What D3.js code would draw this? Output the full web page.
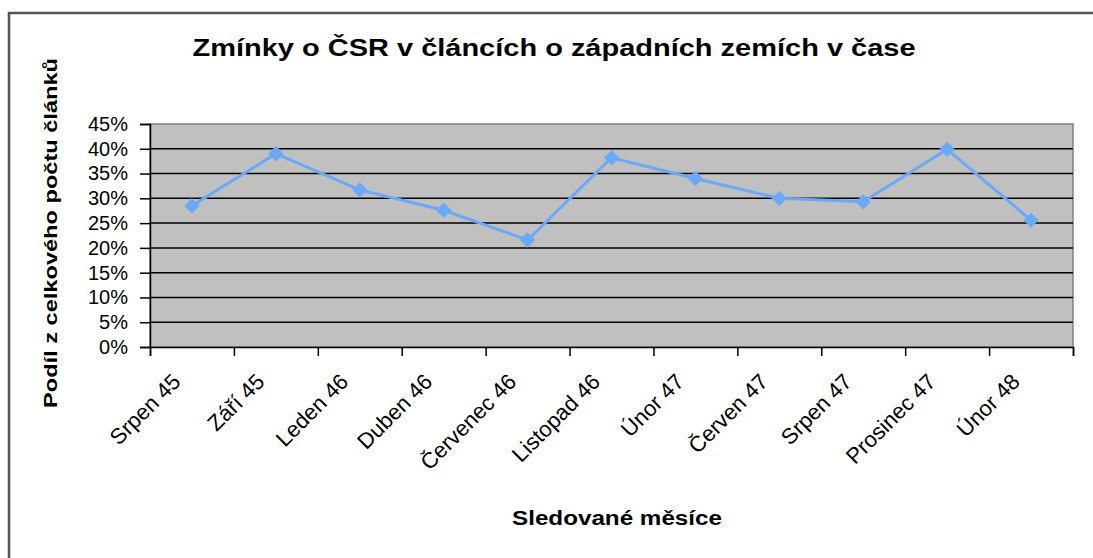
<!DOCTYPE html>
<html><head><meta charset="utf-8">
<script src="https://cdn.jsdelivr.net/npm/d3@7"></script>
<style>body{margin:0;background:#fff}svg{display:block}</style>
</head><body>
<svg id="c" width="1093" height="558"></svg>
<script>
const categories = ["Srpen 45","Září 45","Leden 46","Duben 46","Červenec 46","Listopad 46","Únor 47","Červen 47","Srpen 47","Prosinec 47","Únor 48"];
const values = [0.285,0.390,0.317,0.276,0.216,0.382,0.340,0.300,0.293,0.399,0.256];
const yTicks = [0,0.05,0.10,0.15,0.20,0.25,0.30,0.35,0.40,0.45];
const titleText = "Zmínky o ČSR v článcích o západních zemích v čase";
const yTitle = "Podíl z celkového počtu článků";
const xTitle = "Sledované měsíce";

const svg = d3.select("#c");
const L = 150, R = 1073, T = 124, B = 347;
const font = "Arial, 'Liberation Sans', sans-serif";

// outer frame
svg.append("rect").attr("x",9).attr("y",13).attr("width",1100).attr("height",600)
  .attr("fill","#fff").attr("stroke","#555").attr("stroke-width",2.5);

const x = d3.scaleBand().domain(categories).range([L,R]).padding(0);
const xb = d3.scaleLinear().domain([0,categories.length]).range([L,R]);
const y = d3.scaleLinear().domain([0,0.45]).range([B,T]);

// plot background
svg.append("rect").attr("x",L).attr("y",T).attr("width",R-L).attr("height",B-T)
  .attr("fill","#c0c0c0").attr("stroke","#808080").attr("stroke-width",1.5);

// gridlines
svg.append("g").selectAll("line").data(yTicks.filter(d=>d>0 && d<0.45)).join("line")
  .attr("x1",L).attr("x2",R).attr("y1",d=>y(d)).attr("y2",d=>y(d))
  .attr("stroke","#000").attr("stroke-width",1.5);

// y axis
const ya = svg.append("g").attr("transform",`translate(${L},0)`)
  .call(d3.axisLeft(y).tickValues(yTicks).tickFormat(d3.format(".0%")).tickSize(10).tickPadding(12));
ya.select(".domain").attr("stroke","#000").attr("stroke-width",1.5);
ya.selectAll(".tick line").attr("stroke","#000").attr("stroke-width",1.5);
ya.selectAll("text").attr("font-family",font).attr("font-size",20).attr("fill","#000");

// x axis: boundary ticks
const xa = svg.append("g").attr("transform",`translate(0,${B})`)
  .call(d3.axisBottom(xb).tickValues(d3.range(categories.length+1)).tickSize(9).tickFormat(""));
xa.select(".domain").attr("stroke","#000").attr("stroke-width",1.5);
xa.selectAll(".tick line").attr("stroke","#000").attr("stroke-width",1.5);

// x labels
svg.append("g").selectAll("text").data(categories).join("text")
  .attr("transform",d=>`translate(${x(d)+x.bandwidth()/2-10},${B+36}) rotate(-45)`)
  .attr("text-anchor","end")
  .attr("font-family",font).attr("font-size",22).attr("fill","#000")
  .text(d=>d);

// line
const line = d3.line().x((d,i)=>x(categories[i])+x.bandwidth()/2).y(d=>y(d));
svg.append("path").datum(values).attr("d",line)
  .attr("fill","none").attr("stroke","#6aa8f8").attr("stroke-width",3);
svg.append("g").selectAll("path").data(values).join("path")
  .attr("transform",(d,i)=>`translate(${x(categories[i])+x.bandwidth()/2},${y(d)})`)
  .attr("d",d3.symbol().type(d3.symbolDiamond2).size(150))
  .attr("fill","#6aa8f8");

// titles
svg.append("text").attr("x",554).attr("y",56).attr("text-anchor","middle")
  .attr("font-family",font).attr("font-weight","bold").attr("font-size",23)
  .attr("textLength",723).attr("lengthAdjust","spacingAndGlyphs").text(titleText);
svg.append("text").attr("transform","translate(57,233) rotate(-90)").attr("text-anchor","middle")
  .attr("font-family",font).attr("font-weight","bold").attr("font-size",19)
  .attr("textLength",350).attr("lengthAdjust","spacingAndGlyphs").text(yTitle);
svg.append("text").attr("x",617).attr("y",525).attr("text-anchor","middle")
  .attr("font-family",font).attr("font-weight","bold").attr("font-size",20)
  .attr("textLength",210).attr("lengthAdjust","spacingAndGlyphs").text(xTitle);
</script>
</body></html>
